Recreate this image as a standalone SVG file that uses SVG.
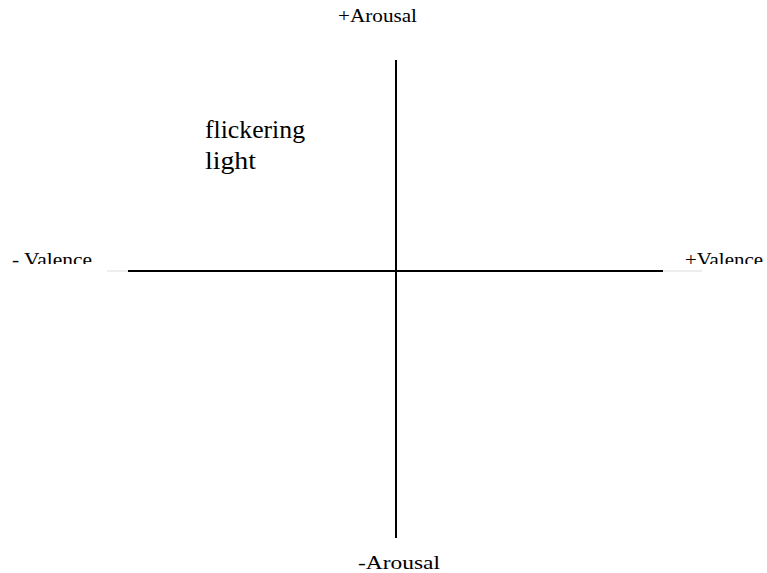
<svg xmlns="http://www.w3.org/2000/svg" width="767" height="573" viewBox="0 0 767 573">
<style>
.axis{stroke:#000;stroke-width:2;fill:none}
</style>
<defs>
<clipPath id="clipV"><rect x="0" y="240" width="767" height="24"/></clipPath>
</defs>
<rect width="767" height="573" fill="#fff"/>
<g id="connectors">
<line x1="107" y1="271" x2="702" y2="271" stroke="#ddd" stroke-width="1"/>
<line class="axis" x1="128" y1="271" x2="663" y2="271"/>
<line class="axis" x1="396" y1="60" x2="396" y2="538"/>
</g>
<g font-family="Liberation Serif, serif" font-size="19" fill="#000">
<g id="plusArousal"><text x="338" y="22" textLength="79" lengthAdjust="spacingAndGlyphs">+Arousal</text></g>
<g id="minusArousal"><text x="358" y="569" textLength="82" lengthAdjust="spacingAndGlyphs">-Arousal</text></g>
<g id="minusValence" clip-path="url(#clipV)"><text x="12" y="265.5" textLength="80" lengthAdjust="spacingAndGlyphs">- Valence</text></g>
<g id="plusValence" clip-path="url(#clipV)"><text x="685" y="265.5" textLength="78" lengthAdjust="spacingAndGlyphs">+Valence</text></g>
</g>
<g id="flickering" font-family="Liberation Serif, serif" font-size="25" fill="#000"><text x="205" y="138" textLength="100" lengthAdjust="spacingAndGlyphs">flickering</text><text x="205" y="169" textLength="51" lengthAdjust="spacingAndGlyphs">light</text></g>
</svg>
